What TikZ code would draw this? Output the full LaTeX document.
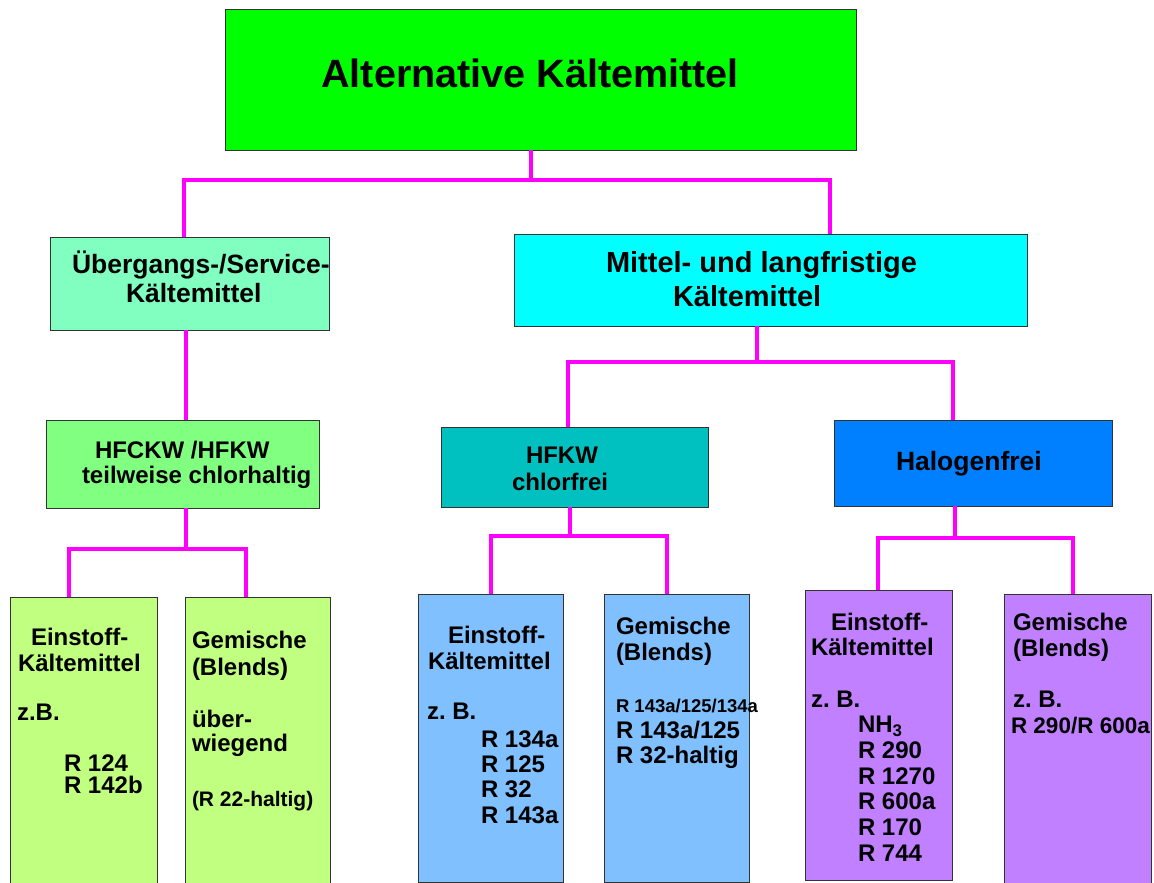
\documentclass[tikz,border=0pt]{standalone}
\usepackage{fontspec}
\setmainfont{Liberation Sans}
\usepackage{array}
\frenchspacing
\definecolor{cTop}{HTML}{00FF00}
\definecolor{cUeb}{HTML}{80FFC0}
\definecolor{cHfc}{HTML}{80FF80}
\definecolor{cGrn}{HTML}{C0FF80}
\definecolor{cMit}{HTML}{00FFFF}
\definecolor{cHfk}{HTML}{00C0C0}
\definecolor{cHal}{HTML}{0080FF}
\definecolor{cBlu}{HTML}{80C0FF}
\definecolor{cPur}{HTML}{C080FF}
\definecolor{cCon}{HTML}{FF00FF}
\newcommand{\boxlines}[1]{\begin{tabular}[t]{@{}l@{}}#1\end{tabular}}
\tikzset{
  box/.style={rectangle, draw=black!80, line width=1pt, inner sep=0pt, outer sep=0pt},
  conn/.style={draw=cCon, line width=4pt},
  txt/.style={anchor=base west, inner sep=0pt, outer sep=0pt, font=\fontsize{24}{25}\selectfont\bfseries},
}
\begin{document}
\begin{tikzpicture}[x=1pt, y=-1pt]
\clip (0,0) rectangle (1154,883);
\fill[white] (0,0) rectangle (1154,883);

% boxes
\node[box, fill=cTop, minimum width=631pt, minimum height=140pt] (top) at (540.5,80) {};
\node[box, fill=cUeb, minimum width=279pt, minimum height=93pt] (ueb) at (189.5,283.5) {};
\node[box, fill=cMit, minimum width=513pt, minimum height=92pt] (mit) at (770.5,280) {};
\node[box, fill=cHfc, minimum width=273pt, minimum height=88pt] (hfc) at (182.5,464) {};
\node[box, fill=cHfk, minimum width=267pt, minimum height=80pt] (hfk) at (574.5,467) {};
\node[box, fill=cHal, minimum width=278pt, minimum height=86pt] (hal) at (973,463) {};
\node[box, fill=cGrn, minimum width=147pt, minimum height=293pt] (b1) at (83.5,743.5) {};
\node[box, fill=cGrn, minimum width=145pt, minimum height=293pt] (b2) at (257.5,743.5) {};
\node[box, fill=cBlu, minimum width=145pt, minimum height=288pt] (b3) at (490.5,738) {};
\node[box, fill=cBlu, minimum width=145pt, minimum height=288pt] (b4) at (676.5,738) {};
\node[box, fill=cPur, minimum width=147pt, minimum height=290pt] (b5) at (878.5,735) {};
\node[box, fill=cPur, minimum width=147pt, minimum height=296pt] (b6) at (1077.5,742) {};

% junction coordinates
\coordinate (j0) at (531,180);
\coordinate (d1) at (184,180);
\coordinate (d2) at (830,180);
\coordinate (j1) at (186,549);
\coordinate (d3) at (69,549);
\coordinate (d4) at (246,549);
\coordinate (j2) at (757,362);
\coordinate (d5) at (568,362);
\coordinate (d6) at (953,362);
\coordinate (j3) at (570,536);
\coordinate (d7) at (491,536);
\coordinate (d8) at (667,536);
\coordinate (j4) at (955,538);
\coordinate (d9) at (878,538);
\coordinate (d10) at (1073,538);

% connectors
\draw[conn] (top.south -| j0) -- (j0);
\draw[conn] (ueb.north -| d1) -- (d1) -- (d2) -- (mit.north -| d2);
\draw[conn] (ueb.south -| j1) -- (hfc.north -| j1);
\draw[conn] (hfc.south -| j1) -- (j1);
\draw[conn] (b1.north -| d3) -- (d3) -- (d4) -- (b2.north -| d4);
\draw[conn] (mit.south -| j2) -- (j2);
\draw[conn] (hfk.north -| d5) -- (d5) -- (d6) -- (hal.north -| d6);
\draw[conn] (hfk.south -| j3) -- (j3);
\draw[conn] (b3.north -| d7) -- (d7) -- (d8) -- (b4.north -| d8);
\draw[conn] (hal.south -| j4) -- (j4);
\draw[conn] (b5.north -| d9) -- (d9) -- (d10) -- (b6.north -| d10);

% texts
\node[anchor=base, inner sep=0pt, font=\fontsize{39.5}{40}\selectfont\bfseries] (tTop) at (530,88) {Alternative Kältemittel};
\node[txt, font=\fontsize{26.5}{29}\selectfont\bfseries] (tUeb) at (72,273)
  {\boxlines{Übergangs-/Service-\\ \hspace*{54pt}Kältemittel}};
\node[txt, font=\fontsize{29}{34}\selectfont\bfseries] (tMit) at (606,272)
  {\boxlines{Mittel- und langfristige\\ \hspace*{67pt}Kältemittel}};
\node[txt] (tHfc) at (82,458)
  {\boxlines{\hspace*{13pt}HFCKW /HFKW\\ teilweise chlorhaltig}};
\node[txt, font=\fontsize{24}{27}\selectfont\bfseries] (tHfk) at (512,463)
  {\boxlines{\hspace*{14pt}HFKW\\ chlorfrei}};
\node[txt, font=\fontsize{26.5}{29}\selectfont\bfseries] (tHal) at (896,470) {Halogenfrei};

\node[txt] (tB1) at (17,645)
  {\boxlines{\hspace*{14pt}Einstoff-\\[1pt] \hspace*{1pt}Kältemittel\\[24pt] z.B.\\[26pt] \hspace*{47pt}R 124\\[-3pt] \hspace*{47pt}R 142b}};
\node[txt] (tB2) at (192,648)
  {\boxlines{Gemische\\[2pt] (Blends)\\[27pt] über-\\[-1pt] wiegend\\[30pt] {\fontsize{21}{25}\selectfont (R 22-haltig)}}};
\node[txt] (tB3) at (427,643)
  {\boxlines{\hspace*{21pt}Einstoff-\\[1pt] \hspace*{1pt}Kältemittel\\[25pt] z. B.\\[3pt] \hspace*{54pt}R 134a\\ \hspace*{54pt}R 125\\ \hspace*{54pt}R 32\\[1pt] \hspace*{54pt}R 143a}};
\node[txt] (tB4) at (616,634)
  {\boxlines{Gemische\\[1pt] (Blends)\\[27pt] {\fontsize{18.5}{25}\selectfont R 143a/125/134a}\\[1pt] R 143a/125\\ R 32-haltig}};
\node[txt, font=\fontsize{24}{25.7}\selectfont\bfseries] (tB5) at (811,630)
  {\boxlines{\hspace*{20pt}Einstoff-\\ Kältemittel\\[25.7pt] z. B.\\ \hspace*{47pt}NH\textsubscript{3}\\ \hspace*{47pt}R 290\\ \hspace*{47pt}R 1270\\ \hspace*{47pt}R 600a\\ \hspace*{47pt}R 170\\ \hspace*{47pt}R 744}};
\node[txt, font=\fontsize{24}{25.5}\selectfont\bfseries] (tB6) at (1013,630)
  {\boxlines{Gemische\\[0.5pt] (Blends)\\[26pt] z. B.\\ \hspace*{-2pt}{\fontsize{22.5}{25.5}\selectfont R 290/R 600a}}};
\end{tikzpicture}
\end{document}
